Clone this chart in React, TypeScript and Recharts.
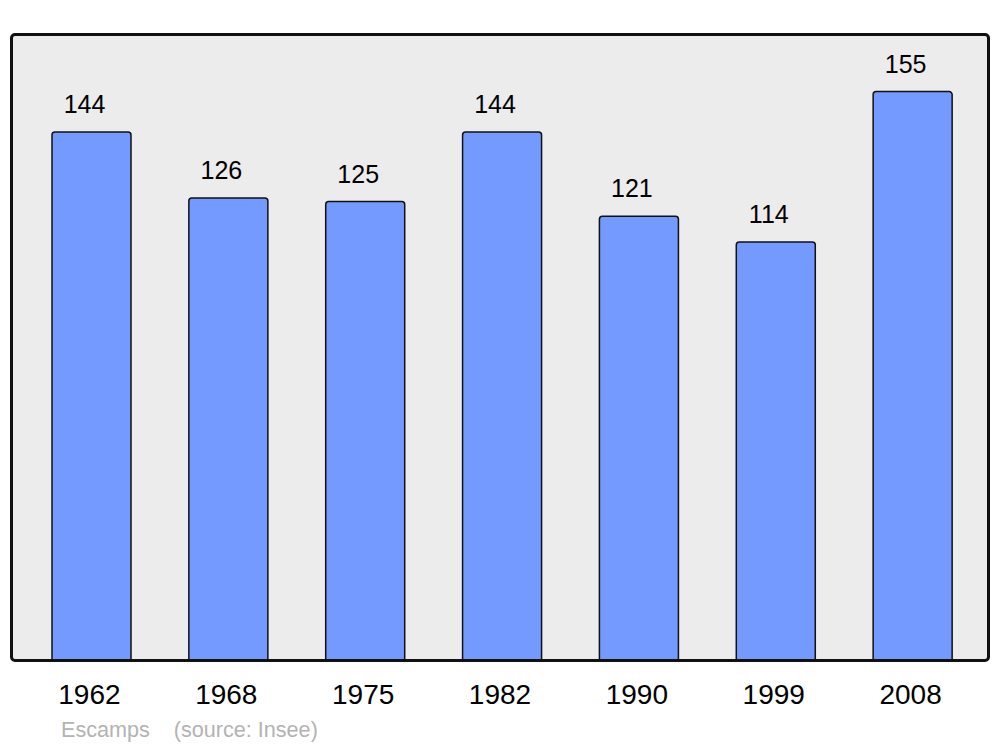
import { BarChart, Bar, XAxis, YAxis, LabelList } from "recharts";

const years = ["1962", "1968", "1975", "1982", "1990", "1999", "2008"];
const population = [144, 126, 125, 144, 121, 114, 155];
const footer = "Escamps    (source: Insee)";

const data = years.map((year, i) => ({ year, population: population[i] }));

const font = "'Liberation Sans', Arial, sans-serif";

export default function App() {
  return (
    <div style={{ position: "absolute", left: 0, top: 0, width: 1000, height: 747, background: "#fff", fontFamily: font }}>
      <div
        style={{
          position: "absolute",
          left: 11,
          top: 34,
          width: 978,
          height: 626,
          background: "#ececec",
          borderRadius: 4,
        }}
      />
      <div style={{ position: "absolute", left: 0, top: 0 }}>
        <BarChart
          width={1000}
          height={747}
          data={data}
          margin={{ top: 34, right: 11, bottom: 27, left: 11 }}
        >
          <XAxis
            dataKey="year"
            height={60}
            axisLine={false}
            tickLine={false}
            tickSize={0}
            tickMargin={24}
            padding={{ left: 12, right: 8 }}
            tick={{ fontFamily: font, fontSize: 28, fill: "#000", dx: -2 }}
            interval={0}
          />
          <YAxis hide domain={[0, 170.7]} />
          <Bar
            dataKey="population"
            fill="#7499ff"
            stroke="#111"
            strokeWidth={1.5}
            barSize={79}
            radius={[3, 3, 0, 0]}
            isAnimationActive={false}
          >
            <LabelList
              dataKey="population"
              position="top"
              offset={19}
              dx={-7}
              style={{ fontFamily: font, fontSize: 25, fill: "#000" }}
            />
          </Bar>
        </BarChart>
      </div>
      <div
        style={{
          position: "absolute",
          left: 10,
          top: 33,
          width: 980,
          height: 629,
          boxSizing: "border-box",
          border: "3px solid #111",
          borderRadius: 5,
          pointerEvents: "none",
        }}
      />
      <div
        style={{
          position: "absolute",
          left: 61,
          top: 717,
          fontSize: 21.6,
          color: "#b3b3b3",
          whiteSpace: "pre",
          lineHeight: "26px",
        }}
      >
        {footer}
      </div>
    </div>
  );
}
